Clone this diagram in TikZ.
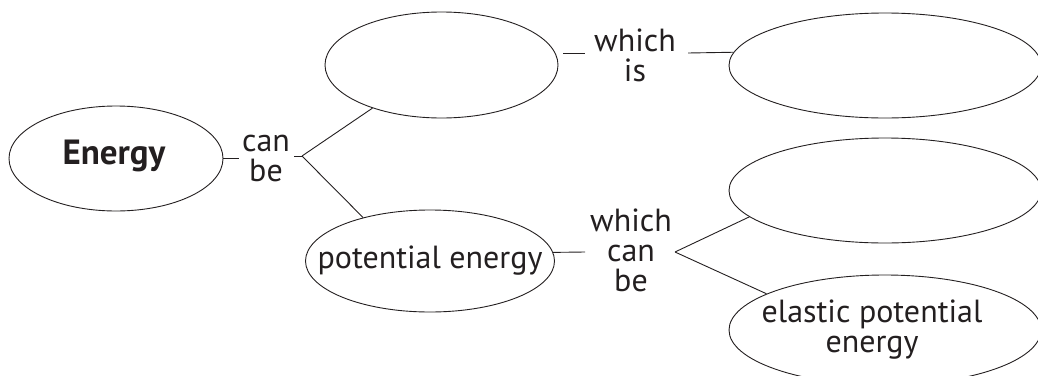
\documentclass[tikz,border=0pt]{standalone}
\usepackage{fontspec}
\setmainfont{PT Sans}
\usetikzlibrary{shapes.geometric}
\definecolor{ink}{HTML}{231F20}
\tikzset{
  bubble/.style={ellipse, draw=ink, line width=0.9pt, inner sep=0pt},
  txt/.style={font=\fontsize{32}{30}\selectfont, text=ink},
  lbl/.style={align=center, inner sep=0pt, txt},
  conn/.style={line width=0.9pt, draw=ink},
}
\begin{document}
\begin{tikzpicture}[x=1pt,y=-1pt]
\useasboundingbox (0,0) rectangle (1038,375);
\clip (0,0) rectangle (1038,375);
% ellipses
\node[bubble, minimum width=214pt, minimum height=105pt] (energy) at (116,158.5) {};
\node[bubble, minimum width=233pt, minimum height=106pt] (kin) at (441.5,65) {};
\node[bubble, minimum width=312pt, minimum height=105pt] (kdef) at (885,65.5) {};
\node[bubble, minimum width=249pt, minimum height=102pt] (pe) at (430,261) {};
\node[bubble, minimum width=312pt, minimum height=105pt] (grav) at (885,190.5) {};
\node[bubble, minimum width=312pt, minimum height=110pt] (elastic) at (885,330) {};
% texts in ellipses
\node[lbl, font={\fontsize{35}{30}\selectfont\bfseries}] (energytext) at (114,155.5) {Energy};
\node[lbl] (petext) at (430,261) {potential energy};
\node[lbl] (elastictext) at (872,330) {elastic potential\\energy};
% labels
\node[lbl] (canbe) at (266,158) {can\\be};
\node[lbl] (whichis) at (635,55) {which\\is};
\node[lbl] (whichcanbe) at (631,250) {which\\can\\be};
% coordinates
\coordinate (c1) at (239,158.5);
\coordinate (s1) at (294,156);
\coordinate (b1) at (302,156);
\coordinate (d1a) at (563,53);
\coordinate (d1b) at (585,53);
\coordinate (c3) at (688,53);
\coordinate (c4) at (585,252);
\coordinate (b2) at (675,252);
% connectors
\draw[conn] (energy.east) -- (c1);
\draw[conn] (s1) -- (b1);
\draw[conn] (b1) -- (kin.212.7);
\draw[conn] (b1) -- (pe.147.7);
\draw[conn] (d1a) -- (d1b);
\draw[conn] (c3) -- (kdef.175.3);
\draw[conn] (pe.4) -- (c4);
\draw[conn] (b2) -- (grav.191.5);
\draw[conn] (b2) -- (elastic.163.1);
\end{tikzpicture}
\end{document}
